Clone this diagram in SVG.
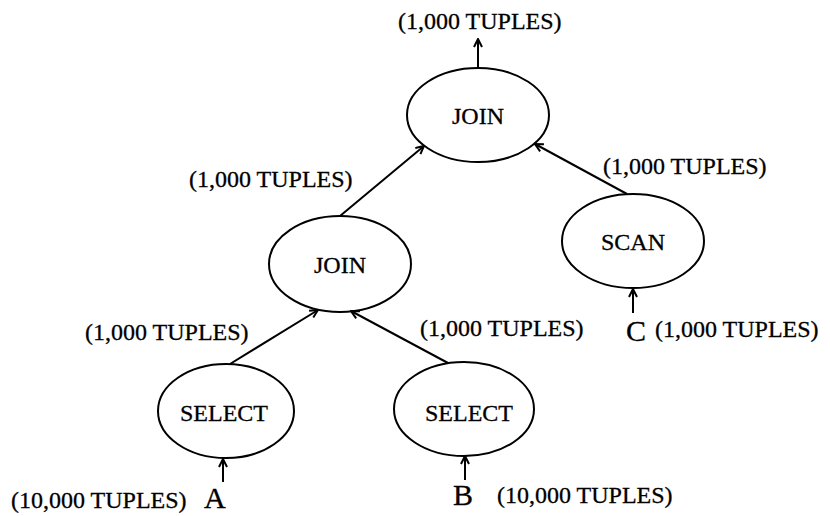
<svg xmlns="http://www.w3.org/2000/svg" width="830" height="516" viewBox="0 0 830 516">
<style>
.node ellipse{fill:none;stroke:#000;stroke-width:2}
text{font-family:"Liberation Serif","Times New Roman",serif;fill:#000;stroke:#000;stroke-width:0.3}
.nt{font-size:24px;text-anchor:middle}
.lb{font-size:24px}
.rel{font-size:30px}
.conn line{stroke:#000;stroke-width:2;marker-end:url(#ah)}
</style>
<defs>
<marker id="ah" viewBox="0 0 10 10" refX="9" refY="5" markerWidth="10" markerHeight="10" markerUnits="userSpaceOnUse" orient="auto">
<path d="M1,1 L9,5 L1,9" fill="none" stroke="#000" stroke-width="2"/>
</marker>
</defs>
<rect width="830" height="516" fill="#fff"/>
<g class="conn">
<line x1="478" y1="68" x2="478" y2="39"/>
<line x1="340" y1="216" x2="424" y2="146"/>
<line x1="627" y1="194" x2="535" y2="144"/>
<line x1="230" y1="364" x2="318" y2="310"/>
<line x1="448" y1="363" x2="351" y2="311"/>
<line x1="633" y1="313" x2="633" y2="289"/>
<line x1="223" y1="482" x2="223" y2="459"/>
<line x1="465" y1="480" x2="465" y2="456"/>
</g>
<g id="join-top" class="node"><ellipse cx="478" cy="115" rx="71" ry="47"/><text class="nt" x="478" y="124">JOIN</text></g>
<g id="join-mid" class="node"><ellipse cx="340" cy="264" rx="71" ry="48"/><text class="nt" x="340" y="273">JOIN</text></g>
<g id="scan" class="node"><ellipse cx="633" cy="241" rx="71" ry="47"/><text class="nt" x="633" y="250">SCAN</text></g>
<g id="select-a" class="node"><ellipse cx="226" cy="411" rx="68" ry="47"/><text class="nt" x="224" y="421">SELECT</text></g>
<g id="select-b" class="node"><ellipse cx="464" cy="409" rx="70" ry="47"/><text class="nt" x="469" y="421">SELECT</text></g>
<g id="labels">
<text class="lb" x="398" y="29">(1,000 TUPLES)</text>
<text class="lb" x="189" y="187">(1,000 TUPLES)</text>
<text class="lb" x="603" y="174">(1,000 TUPLES)</text>
<text class="lb" x="85" y="340">(1,000 TUPLES)</text>
<text class="lb" x="420" y="336">(1,000 TUPLES)</text>
<text class="lb" x="655" y="337">(1,000 TUPLES)</text>
<text class="lb" x="11" y="508">(10,000 TUPLES)</text>
<text class="lb" x="497" y="503">(10,000 TUPLES)</text>
</g>
<g id="rel-a"><text class="rel" x="204" y="508">A</text></g>
<g id="rel-b"><text class="rel" x="453" y="505">B</text></g>
<g id="rel-c"><text class="rel" x="626" y="341">C</text></g>
</svg>
